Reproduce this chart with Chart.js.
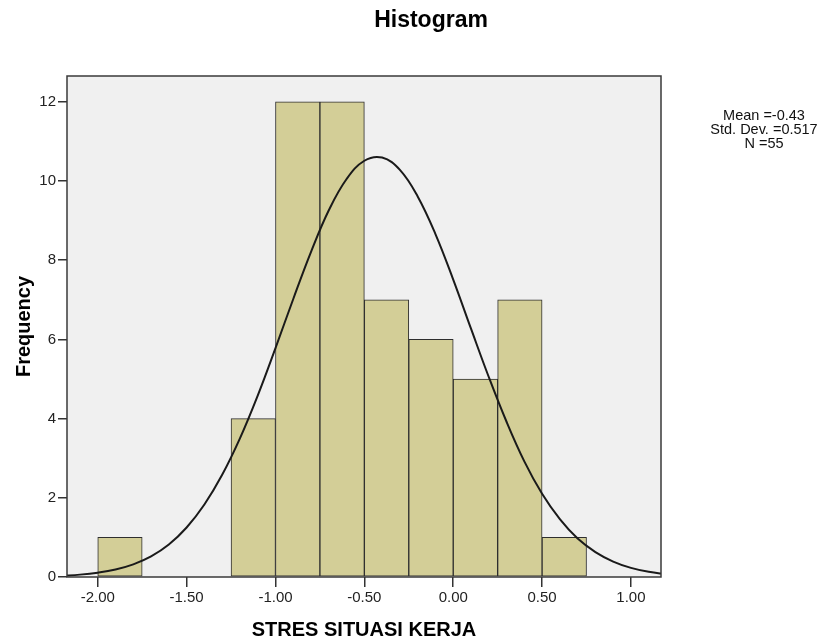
<!DOCTYPE html>
<html>
<head>
<meta charset="utf-8">
<title>Histogram</title>
<script src="https://cdn.jsdelivr.net/npm/chart.js@4.4.1/dist/chart.umd.min.js"></script>
<style>
    html, body { margin: 0; padding: 0; background: #ffffff; }
    #wrap { width: 825px; height: 642px; }
</style>
</head>
<body>
<div id="wrap"><canvas id="histChart" width="825" height="642"></canvas></div>
<script>
// Histogram bins (lower edge of each bin) and counts
const binStarts = [-2.00, -1.75, -1.50, -1.25, -1.00, -0.75, -0.50, -0.25, 0.00, 0.25, 0.50];
const frequencies = [1, 0, 0, 4, 12, 12, 7, 6, 5, 7, 1];
const binWidth = 0.25;

// Normal curve
const curveX = [-2.2, -2.1, -2.0, -1.9, -1.8, -1.7, -1.6, -1.5, -1.4, -1.3, -1.2, -1.1, -1.0, -0.9, -0.8, -0.7,
    -0.6, -0.5, -0.4, -0.3, -0.2, -0.1, 0.0, 0.1, 0.2, 0.3, 0.4, 0.5, 0.6, 0.7, 0.8, 0.9, 1.0, 1.1, 1.2];
const curveY = [0.03, 0.06, 0.11, 0.19, 0.32, 0.52, 0.82, 1.25, 1.83, 2.58, 3.50, 4.58, 5.78, 7.02, 8.21, 9.26,
    10.05, 10.51, 10.59, 10.28, 9.61, 8.66, 7.51, 6.27, 5.05, 3.92, 2.92, 2.10, 1.46, 0.97, 0.63, 0.39, 0.23, 0.13, 0.07];

// Axis ticks
const xTicks = [-2.0, -1.5, -1.0, -0.5, 0.0, 0.5, 1.0];
const yTicks = [0, 2, 4, 6, 8, 10, 12];

const statsLines = ['Mean =-0.43', 'Std. Dev. =0.517', 'N =55'];

const FONT = '"Liberation Sans", Arial, sans-serif';

// Plot background, frame, title and stats box
const framePlugin = {
    id: 'frame',
    beforeDatasetsDraw(chart) {
        const { ctx, chartArea: a } = chart;
        ctx.save();
        ctx.fillStyle = '#f0f0f0';
        ctx.fillRect(a.left, a.top, a.right - a.left, a.bottom - a.top);
        ctx.restore();
    },
    afterDraw(chart) {
        const { ctx, chartArea: a } = chart;
        ctx.save();
        ctx.strokeStyle = '#3a3a3a';
        ctx.lineWidth = 1.5;
        ctx.strokeRect(a.left, a.top, a.right - a.left, a.bottom - a.top);

        ctx.fillStyle = '#000000';
        ctx.textAlign = 'center';
        ctx.textBaseline = 'alphabetic';
        ctx.font = 'bold 23px ' + FONT;
        ctx.fillText('Histogram', 431, 27);

        ctx.font = '14.5px ' + FONT;
        ctx.fillStyle = '#111111';
        statsLines.forEach((line, i) => {
            ctx.fillText(line, 764, 119.5 + i * 14);
        });
        ctx.restore();
    }
};

const ctx = document.getElementById('histChart');

new Chart(ctx, {
    type: 'bar',
    data: {
        datasets: [
            {
                type: 'line',
                data: curveX.map((x, i) => ({ x: x, y: curveY[i] })),
                borderColor: '#1a1a1a',
                borderWidth: 2,
                pointRadius: 0,
                tension: 0.4,
                fill: false,
                order: 0
            },
            {
                type: 'bar',
                data: binStarts.map((b, i) => ({ x: b + binWidth / 2, y: frequencies[i] || null })),
                backgroundColor: '#d3ce97',
                borderColor: '#2e2e2e',
                borderWidth: 1,
                borderSkipped: false,
                barPercentage: 1.0,
                categoryPercentage: 1.0,
                order: 1
            }
        ]
    },
    options: {
        responsive: false,
        animation: false,
        layout: { padding: { top: 76, right: 164, left: 0, bottom: 0 } },
        plugins: {
            legend: { display: false },
            tooltip: { enabled: false }
        },
        scales: {
            x: {
                type: 'linear',
                min: -2.173,
                max: 1.169,
                offset: false,
                afterFit(scale) { scale.height = 65; },
                afterBuildTicks(scale) { scale.ticks = xTicks.map(v => ({ value: v })); },
                grid: {
                    offset: false,
                    drawOnChartArea: false,
                    drawTicks: true,
                    tickLength: 10,
                    color: '#333333',
                    lineWidth: 1.5
                },
                border: { display: false },
                ticks: {
                    padding: 2,
                    color: '#222222',
                    font: { family: FONT, size: 15 },
                    callback: v => v.toFixed(2)
                },
                title: {
                    display: true,
                    text: 'STRES SITUASI KERJA',
                    color: '#000000',
                    font: { family: FONT, size: 20, weight: 'bold' },
                    padding: { top: 0, bottom: 0 }
                }
            },
            y: {
                min: 0,
                max: 12.65,
                afterFit(scale) { scale.width = 67; },
                afterBuildTicks(scale) { scale.ticks = yTicks.map(v => ({ value: v })); },
                grid: {
                    drawOnChartArea: false,
                    drawTicks: true,
                    tickLength: 9,
                    color: '#333333',
                    lineWidth: 1.5
                },
                border: { display: false },
                ticks: {
                    padding: 2,
                    color: '#222222',
                    font: { family: FONT, size: 15 }
                },
                title: {
                    display: true,
                    text: 'Frequency',
                    color: '#000000',
                    font: { family: FONT, size: 20, weight: 'bold' },
                    padding: { top: 12, bottom: 0 }
                }
            }
        }
    },
    plugins: [framePlugin]
});
</script>
</body>
</html>
